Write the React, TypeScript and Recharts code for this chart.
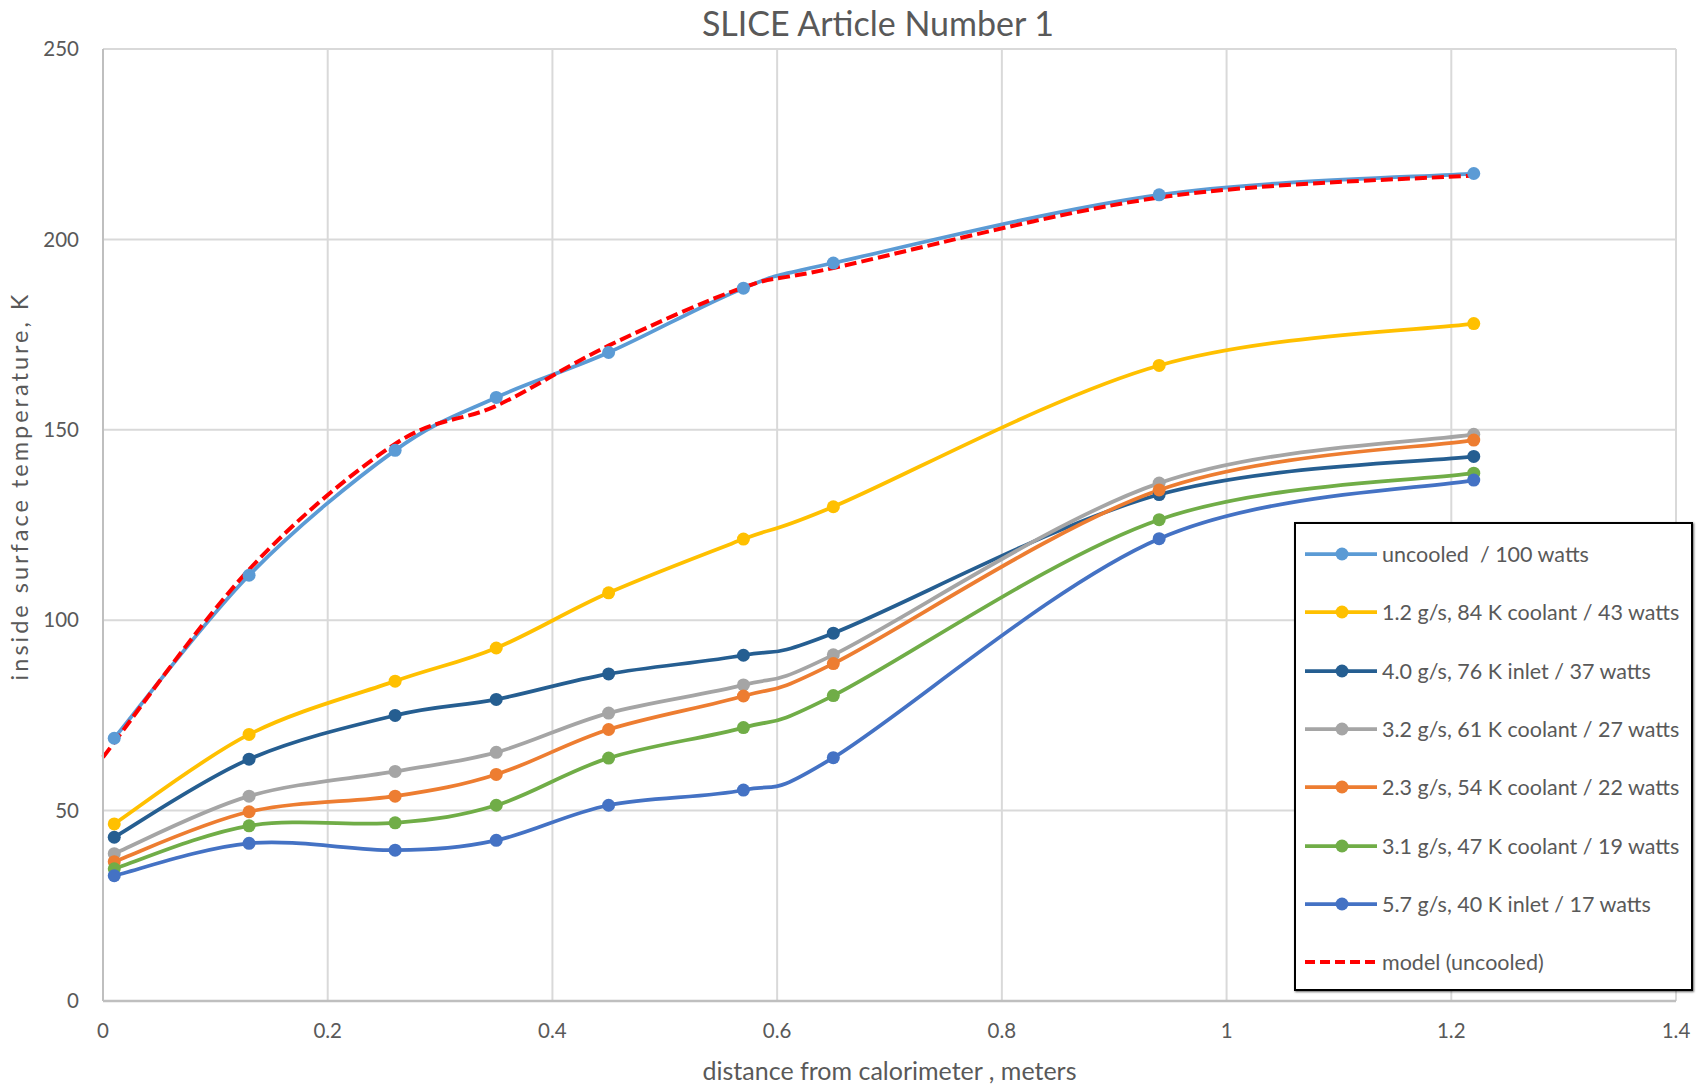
import { CartesianGrid, Legend, Line, LineChart, XAxis, YAxis } from "recharts";

const xPositions = [0.01, 0.13, 0.26, 0.35, 0.45, 0.57, 0.65, 0.94, 1.22];
const modelX = [0, 0.13, 0.26, 0.35, 0.45, 0.57, 0.65, 0.94, 1.22];

const uncooled = [69, 111.8, 144.6, 158.5, 170.3, 187.2, 193.8, 211.7, 217.3];
const coolant84 = [46.5, 70, 84, 92.7, 107.2, 121.3, 129.8, 166.9, 177.9];
const inlet76 = [43, 63.5, 75, 79.2, 85.9, 90.8, 96.6, 133, 143];
const coolant61 = [38.7, 53.8, 60.3, 65.3, 75.6, 83, 90.9, 136, 148.8];
const coolant54 = [36.6, 49.7, 53.8, 59.5, 71.3, 80.1, 88.6, 134.2, 147.3];
const coolant47 = [34.7, 46, 46.8, 51.4, 63.8, 71.8, 80.2, 126.4, 138.6];
const inlet40 = [32.9, 41.4, 39.6, 42.2, 51.4, 55.4, 63.9, 121.4, 136.8];
const model = [64, 113.3, 146.3, 156.3, 172.1, 187.4, 192.5, 211, 216.8];

const xTicks = [0, 0.2, 0.4, 0.6, 0.8, 1, 1.2, 1.4];
const yTicks = [0, 50, 100, 150, 200, 250];

const series = [
  { name: "uncooled  / 100 watts", color: "#5B9BD5", xs: xPositions, ys: uncooled },
  { name: "1.2 g/s, 84 K coolant / 43 watts", color: "#FFC000", xs: xPositions, ys: coolant84 },
  { name: "4.0 g/s, 76 K inlet / 37 watts", color: "#255E91", xs: xPositions, ys: inlet76 },
  { name: "3.2 g/s, 61 K coolant / 27 watts", color: "#A5A5A5", xs: xPositions, ys: coolant61 },
  { name: "2.3 g/s, 54 K coolant / 22 watts", color: "#ED7D31", xs: xPositions, ys: coolant54 },
  { name: "3.1 g/s, 47 K coolant / 19 watts", color: "#70AD47", xs: xPositions, ys: coolant47 },
  { name: "5.7 g/s, 40 K inlet / 17 watts", color: "#4472C4", xs: xPositions, ys: inlet40 },
];
const MODEL_NAME = "model (uncooled)";
const legendOrder = [...series.map((s) => s.name), MODEL_NAME];

const FONT = "Lato, 'Open Sans', sans-serif";
const TEXT = "#595959";

// excel-like smoothed line (catmull-rom through the points)
function excelSmooth(context: any) {
  let pts: number[][] = [];
  return {
    areaStart() {},
    areaEnd() {},
    lineStart() {
      pts = [];
    },
    point(x: number, y: number) {
      pts.push([+x, +y]);
    },
    lineEnd() {
      const n = pts.length;
      if (!n) return;
      context.moveTo(pts[0][0], pts[0][1]);
      for (let i = 0; i < n - 1; i++) {
        const p0 = pts[Math.max(i - 1, 0)];
        const p1 = pts[i];
        const p2 = pts[i + 1];
        const p3 = pts[Math.min(i + 2, n - 1)];
        context.bezierCurveTo(
          p1[0] + (p2[0] - p0[0]) / 6,
          p1[1] + (p2[1] - p0[1]) / 6,
          p2[0] - (p3[0] - p1[0]) / 6,
          p2[1] - (p3[1] - p1[1]) / 6,
          p2[0],
          p2[1]
        );
      }
    },
  };
}

const toRows = (xs: number[], ys: number[]) => xs.map((x, i) => ({ x, y: ys[i] }));

function LegendBox({ payload }: any) {
  const items = [...(payload || [])].sort(
    (a: any, b: any) => legendOrder.indexOf(a.value) - legendOrder.indexOf(b.value)
  );
  return (
    <div
      style={{
        width: "100%",
        height: "100%",
        boxSizing: "border-box",
        border: "2px solid #000",
        boxShadow: "1px 1px 2px rgba(0,0,0,0.6)",
        background: "#fff",
        paddingTop: 1,
      }}
    >
      {items.map((entry: any) => {
        const dashed = !!entry.payload?.strokeDasharray;
        return (
          <div key={entry.value} style={{ height: 58.3, display: "flex", alignItems: "center" }}>
            <svg width={86} height={20} style={{ flex: "none" }}>
              <line
                x1={9}
                x2={81}
                y1={10}
                y2={10}
                stroke={entry.color}
                strokeWidth={dashed ? 4 : 3.75}
                strokeDasharray={dashed ? "10 5" : undefined}
              />
              {!dashed && <circle cx={46} cy={10} r={6.5} fill={entry.color} />}
            </svg>
            <span style={{ fontFamily: FONT, fontSize: 21.5, color: TEXT, whiteSpace: "pre" }}>
              {entry.value}
            </span>
          </div>
        );
      })}
    </div>
  );
}

export default function App() {
  return (
    <div style={{ position: "absolute", left: 0, top: 0, width: 1698, height: 1084, background: "#fff" }}>
      <div
        style={{
          position: "absolute",
          left: 103,
          width: 1550,
          top: 2,
          textAlign: "center",
          fontFamily: FONT,
          fontSize: 34,
          color: TEXT,
        }}
      >
        SLICE Article Number 1
      </div>
      <LineChart width={1698} height={1084} margin={{ top: 49, right: 22, bottom: 0, left: 0 }}>
        <CartesianGrid stroke="#D9D9D9" strokeWidth={2} horizontalValues={yTicks} verticalValues={xTicks} />
        <XAxis
          type="number"
          dataKey="x"
          domain={[0, 1.4]}
          ticks={xTicks}
          height={83}
          tickLine={false}
          tickSize={0}
          tickMargin={22}
          stroke="#BFBFBF"
          strokeWidth={2.5}
          tick={{ fill: TEXT, fontSize: 20.5, fontFamily: FONT }}
          label={{
            content: ({ viewBox }: any) => (
              <text
                x={viewBox.x + viewBox.width / 2}
                y={1080}
                textAnchor="middle"
                fill={TEXT}
                fontSize={25}
                fontFamily={FONT}
              >
                distance from calorimeter , meters
              </text>
            ),
          }}
        />
        <YAxis
          type="number"
          dataKey="y"
          domain={[0, 250]}
          ticks={yTicks}
          width={103}
          tickLine={false}
          tickSize={0}
          tickMargin={24}
          stroke="#BFBFBF"
          strokeWidth={2}
          tick={{ fill: TEXT, fontSize: 20.5, fontFamily: FONT }}
          label={{
            content: () => (
              <text
                x={28}
                y={486}
                transform="rotate(-90 28 486)"
                textAnchor="middle"
                fill={TEXT}
                fontSize={23.5}
                letterSpacing={3}
                fontFamily={FONT}
              >
                inside surface temperature, K
              </text>
            ),
          }}
        />
        <Legend
          layout="vertical"
          align="center"
          verticalAlign="middle"
          wrapperStyle={{ left: 1294, top: 522, width: 399, height: 469 }}
          content={<LegendBox />}
        />
        {series.map((s) => (
          <Line
            key={s.name}
            name={s.name}
            data={toRows(s.xs, s.ys)}
            dataKey="y"
            type={excelSmooth as any}
            stroke={s.color}
            strokeWidth={3.75}
            dot={{ r: 6.5, fill: s.color, stroke: s.color, strokeWidth: 0 }}
            activeDot={false}
            isAnimationActive={false}
          />
        ))}
        <Line
          name={MODEL_NAME}
          data={toRows(modelX, model)}
          dataKey="y"
          type={excelSmooth as any}
          stroke="#FF0000"
          strokeWidth={4}
          strokeDasharray="12 5"
          dot={false}
          activeDot={false}
          isAnimationActive={false}
        />
      </LineChart>
    </div>
  );
}
